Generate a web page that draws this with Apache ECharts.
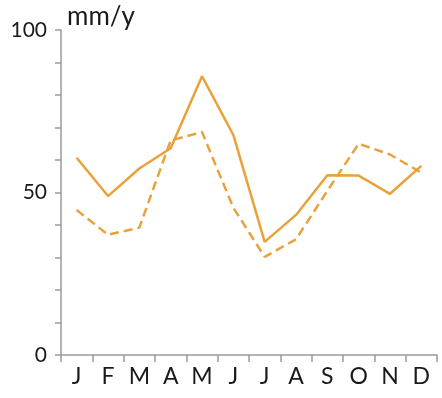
<!DOCTYPE html>
<html>
<head>
<meta charset="utf-8">
<script src="https://cdn.jsdelivr.net/npm/echarts@6/dist/echarts.min.js"></script>
<style>html,body{margin:0;padding:0;background:#fff;}#c{width:442px;height:398px;}</style>
</head>
<body>
<div id="c"></div>
<script>
const months = ['J','F','M','A','M','J','J','A','S','O','N','D'];
const solidSeries = [60.7, 48.9, 57.4, 63.6, 85.8, 67.7, 34.8, 43.1, 55.3, 55.2, 49.6, 58.2];
const dashedSeries = [44.6, 37.0, 39.2, 66.0, 68.6, 45.3, 30.2, 35.6, 50.5, 65.0, 61.7, 56.1];
const yLabels = [0, 50, 100];
const unitLabel = 'mm/y';

const FONT = 'Lato, "Open Sans", sans-serif';
const ORANGE = '#E9A23B';
const AXIS = '#9a9a9a';

const chart = echarts.init(document.getElementById('c'), null, {renderer: 'canvas'});
chart.setOption({
  animation: false,
  backgroundColor: '#fff',
  grid: {left: 61, right: 5, top: 30, bottom: 43, containLabel: false},
  xAxis: {
    type: 'category',
    data: months,
    boundaryGap: true,
    axisLine: {lineStyle: {color: AXIS, width: 1.5}},
    axisTick: {show: true, length: 7, alignWithLabel: false, lineStyle: {color: AXIS, width: 1.5}},
    axisLabel: {color: '#1a1a1a', fontFamily: FONT, fontSize: 23, margin: 10, interval: 0},
    splitLine: {show: false}
  },
  yAxis: {
    type: 'value',
    min: 0, max: 100, interval: 10,
    name: unitLabel,
    nameLocation: 'end',
    nameGap: 13,
    nameTextStyle: {color: '#1a1a1a', fontFamily: FONT, fontSize: 26, align: 'left', verticalAlign: 'middle', padding: [0, 0, 0, 6]},
    axisLine: {show: true, lineStyle: {color: AXIS, width: 1.5}},
    axisTick: {show: true, length: 6, lineStyle: {color: AXIS, width: 1.5}},
    axisLabel: {
      color: '#1a1a1a', fontFamily: FONT, fontSize: 21, margin: 14,
      padding: [0, 0, 14, 0],
      formatter: v => yLabels.includes(v) ? String(v) : ''
    },
    splitLine: {show: false}
  },
  series: [
    {type: 'line', data: solidSeries, symbol: 'none', lineStyle: {color: ORANGE, width: 2.5, type: 'solid'}},
    {type: 'line', data: dashedSeries, symbol: 'none', lineStyle: {color: ORANGE, width: 2.5, type: [9, 5]}}
  ]
});
</script>
</body>
</html>
